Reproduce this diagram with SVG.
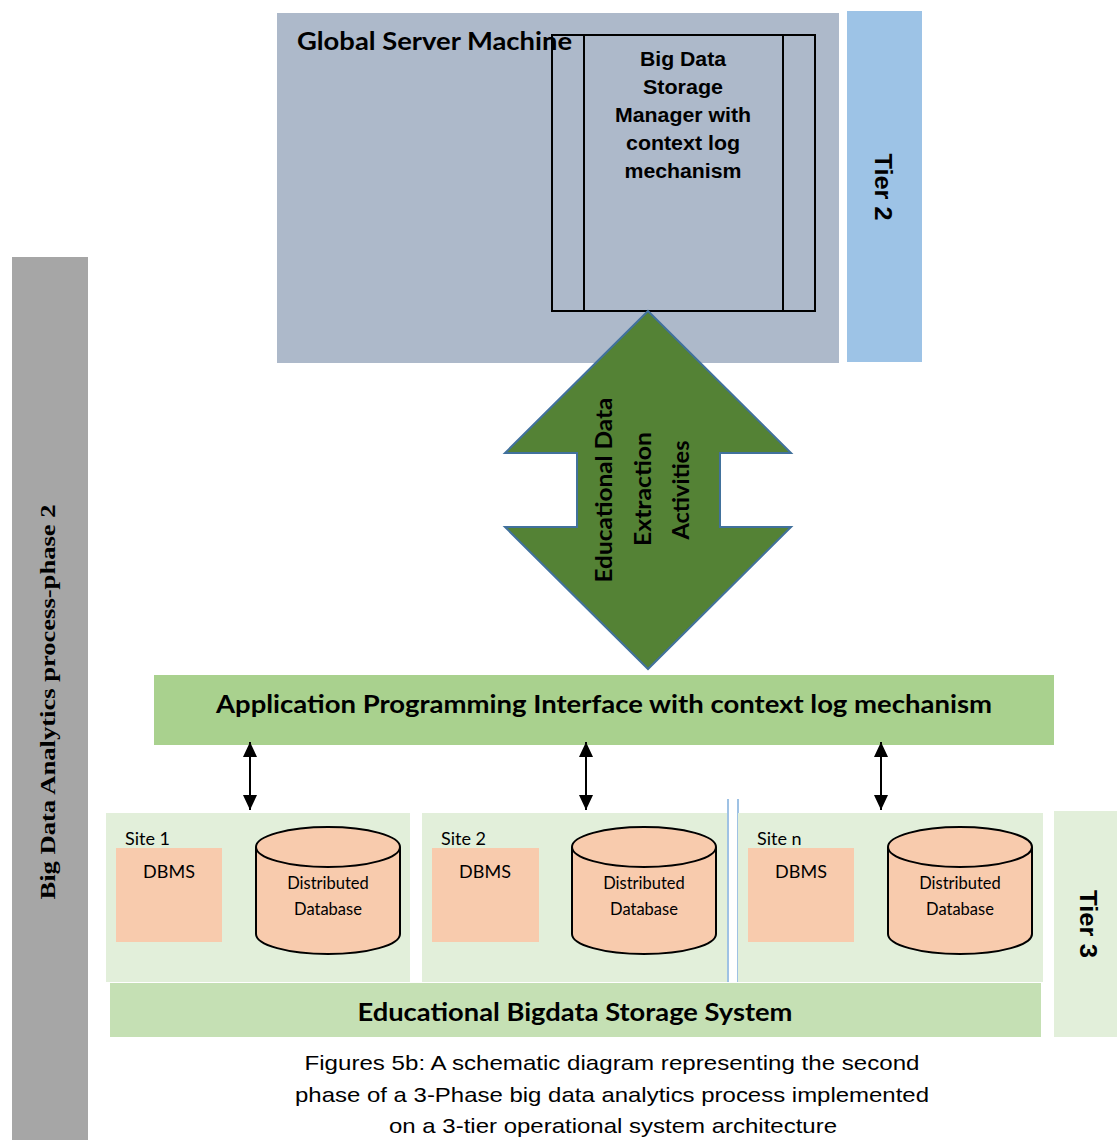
<svg xmlns="http://www.w3.org/2000/svg" width="1117" height="1140" viewBox="0 0 1117 1140">
<style>
.cal{font-family:Lato,"Open Sans","Liberation Sans",sans-serif}
.ar{font-family:"Liberation Sans",Arial,sans-serif}
.b{font-weight:bold}
.site{fill:#E2EFDA}
.dbms{fill:#F8CBAD}
.cyl{fill:#F8CBAD;stroke:#000;stroke-width:2}
.lbl{font-size:18px;fill:#000}
.db{font-size:16.5px;fill:#000;text-anchor:middle}
</style>
<defs>
<marker id="ah" viewBox="0 0 10 10" refX="10" refY="5" markerWidth="15" markerHeight="14" orient="auto-start-reverse" markerUnits="userSpaceOnUse" preserveAspectRatio="none">
<path d="M0,0 L10,5 L0,10 z" fill="#000"/>
</marker>
</defs>
<g id="phase-bar">
<rect x="12" y="257" width="76" height="883" fill="#A6A6A6"/>
<text transform="translate(55,702) rotate(-90)" text-anchor="middle" font-family="'Liberation Serif','Times New Roman',serif" font-weight="bold" font-size="21" textLength="395" lengthAdjust="spacingAndGlyphs">Big Data  Analytics process-phase 2</text>
</g>
<g id="global-server">
<rect x="277" y="13" width="562" height="350" fill="#ADB9CA"/>
<text x="297" y="50" class="cal b" font-size="24" textLength="275" lengthAdjust="spacingAndGlyphs">Global Server Machine</text>
</g>
<g id="tier2">
<rect x="847" y="11" width="75" height="351" fill="#9DC3E6"/>
<text transform="translate(875,187) rotate(90)" text-anchor="middle" class="ar b" font-size="24" textLength="67" lengthAdjust="spacingAndGlyphs">Tier 2</text>
</g>
<g id="storage-manager">
<rect x="552" y="35" width="263" height="276" fill="none" stroke="#000" stroke-width="2"/>
<line x1="584" y1="35" x2="584" y2="311" stroke="#000" stroke-width="2"/>
<line x1="783" y1="35" x2="783" y2="311" stroke="#000" stroke-width="2"/>
<g class="ar b" font-size="20" text-anchor="middle">
<text x="683" y="66" textLength="86" lengthAdjust="spacingAndGlyphs">Big Data</text>
<text x="683" y="94" textLength="80" lengthAdjust="spacingAndGlyphs">Storage</text>
<text x="683" y="122" textLength="136" lengthAdjust="spacingAndGlyphs">Manager with</text>
<text x="683" y="150" textLength="114" lengthAdjust="spacingAndGlyphs">context log</text>
<text x="683" y="178" textLength="117" lengthAdjust="spacingAndGlyphs">mechanism</text>
</g>
</g>
<g id="extraction-arrow">
<polygon points="648,311 791,453 720,453 720,527 791,527 648,669 505,527 577,527 577,453 505,453" fill="#548235" stroke="#41719C" stroke-width="2"/>
<g class="cal b" font-size="22" text-anchor="middle">
<text transform="translate(612,490) rotate(-90)" textLength="185" lengthAdjust="spacingAndGlyphs">Educational Data</text>
<text transform="translate(651,489) rotate(-90)" textLength="114" lengthAdjust="spacingAndGlyphs">Extraction</text>
<text transform="translate(689,490) rotate(-90)" textLength="99" lengthAdjust="spacingAndGlyphs">Activities</text>
</g>
</g>
<g id="api">
<rect x="154" y="675" width="900" height="70" fill="#A9D18E"/>
<text x="604" y="713" text-anchor="middle" class="cal b" font-size="24" textLength="776" lengthAdjust="spacingAndGlyphs">Application Programming Interface with context log mechanism</text>
</g>
<g id="connectors" stroke="#000" stroke-width="2">
<line x1="250" y1="742" x2="250" y2="810" marker-start="url(#ah)" marker-end="url(#ah)"/>
<line x1="586" y1="742" x2="586" y2="810" marker-start="url(#ah)" marker-end="url(#ah)"/>
<line x1="881" y1="742" x2="881" y2="810" marker-start="url(#ah)" marker-end="url(#ah)"/>
<line x1="222" y1="889" x2="256" y2="889" stroke-width="1.5"/>
<line x1="539" y1="889" x2="572" y2="889" stroke-width="1.5"/>
<line x1="854" y1="889" x2="888" y2="889" stroke-width="1.5"/>
</g>
<g id="site1">
<rect x="106" y="813" width="304" height="169" class="site"/>
<text x="125" y="845" class="cal lbl">Site 1</text>
<rect x="116" y="848" width="106" height="94" class="dbms"/>
<text x="169" y="878" class="cal lbl" text-anchor="middle">DBMS</text>
<path d="M256,847 L256,934 A72,20 0 0 0 400,934 L400,847 A72,20 0 0 0 256,847 A72,20 0 0 0 400,847" class="cyl"/>
<text x="328" y="889" class="cal db">Distributed</text>
<text x="328" y="915" class="cal db">Database</text>
</g>
<g id="site2">
<rect x="422" y="813" width="305" height="169" class="site"/>
<text x="441" y="845" class="cal lbl">Site 2</text>
<rect x="432" y="848" width="107" height="94" class="dbms"/>
<text x="485" y="878" class="cal lbl" text-anchor="middle">DBMS</text>
<path d="M572,847 L572,934 A72,20 0 0 0 716,934 L716,847 A72,20 0 0 0 572,847 A72,20 0 0 0 716,847" class="cyl"/>
<text x="644" y="889" class="cal db">Distributed</text>
<text x="644" y="915" class="cal db">Database</text>
</g>
<g id="separator" stroke="#7FAEDB" stroke-width="1.5">
<line x1="728" y1="799" x2="728" y2="982"/>
<line x1="738" y1="799" x2="738" y2="982"/>
</g>
<g id="siten">
<rect x="738" y="813" width="305" height="169" class="site"/>
<text x="757" y="845" class="cal lbl">Site n</text>
<rect x="748" y="848" width="106" height="94" class="dbms"/>
<text x="801" y="878" class="cal lbl" text-anchor="middle">DBMS</text>
<path d="M888,847 L888,934 A72,20 0 0 0 1032,934 L1032,847 A72,20 0 0 0 888,847 A72,20 0 0 0 1032,847" class="cyl"/>
<text x="960" y="889" class="cal db">Distributed</text>
<text x="960" y="915" class="cal db">Database</text>
</g>
<g id="tier3">
<rect x="1054" y="811" width="63" height="226" fill="#E2EFDA"/>
<text transform="translate(1080,924) rotate(90)" text-anchor="middle" class="ar b" font-size="24" textLength="68" lengthAdjust="spacingAndGlyphs">Tier 3</text>
</g>
<g id="storage-system">
<rect x="110" y="983" width="931" height="54" fill="#C5E0B4"/>
<text x="575" y="1021" text-anchor="middle" class="cal b" font-size="24" textLength="435" lengthAdjust="spacingAndGlyphs">Educational Bigdata Storage System</text>
</g>
<g id="caption" class="ar" font-size="21" text-anchor="middle" fill="#000">
<text x="612" y="1070" textLength="615" lengthAdjust="spacingAndGlyphs">Figures 5b: A schematic diagram representing the second</text>
<text x="612" y="1102" textLength="634" lengthAdjust="spacingAndGlyphs">phase of a 3-Phase big data analytics process implemented</text>
<text x="613" y="1133" textLength="448" lengthAdjust="spacingAndGlyphs">on a 3-tier operational system architecture</text>
</g>
</svg>
